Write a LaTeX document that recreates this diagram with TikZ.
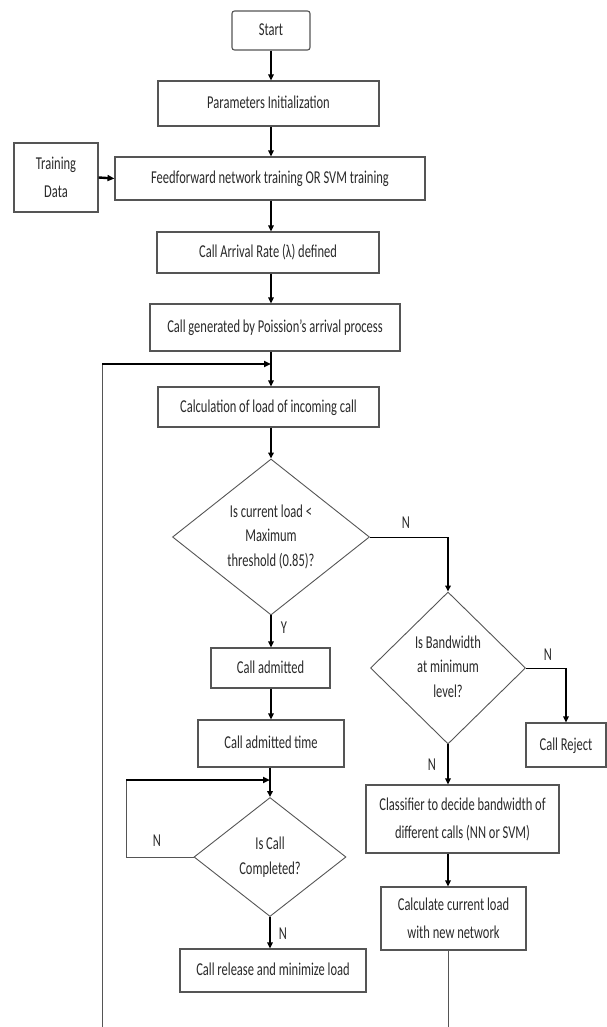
\documentclass[tikz,border=0pt]{standalone}
\usepackage{fontspec}
\setmainfont{Carlito}
\usepackage{graphicx}
\usetikzlibrary{shapes.geometric,arrows.meta}
\definecolor{bordc}{HTML}{555555}
\definecolor{txtc}{HTML}{2a2a2a}
\newcommand\lbl[2][1.2]{\scalebox{1}[1.45]{\renewcommand\arraystretch{#1}\begin{tabular}{@{}c@{}}#2\end{tabular}}}
\begin{document}
\begin{tikzpicture}[x=1pt,y=-1pt,
  box/.style={draw=bordc,line width=1.1pt,inner sep=0pt,text=txtc,font=\fontsize{12.5}{15}\selectfont},
  dia/.style={draw=bordc,line width=0.9pt,shape=diamond,inner sep=0pt},
  dtext/.style={inner sep=0pt,text=txtc,font=\fontsize{12.5}{15}\selectfont},
  yn/.style={inner sep=0pt,text=txtc,font=\fontsize{12.5}{15}\selectfont},
  arr/.style={-{Triangle[length=6pt,width=5.5pt]},line width=1.7pt,black},
  fb/.style={-{Triangle[length=7pt,width=6pt]},line width=2.4pt,black},
  thinl/.style={draw=bordc,line width=0.9pt}]
\useasboundingbox[fill=white] (0,0) rectangle (606,1027);
% nodes
\node[box,rounded corners=2.5pt,minimum width=78pt,minimum height=39pt] (start) at (271,30.5) {\lbl{Start}};
\node[box,minimum width=221pt,minimum height=45pt] (params) at (268.5,103.5) {\lbl{Parameters Initialization}};
\node[box,minimum width=84pt,minimum height=69pt] (train) at (56,177.5) {\lbl[1.3]{Training\\Data}};
\node[box,minimum width=310pt,minimum height=43pt] (ff) at (270,178.5) {\lbl{Feedforward network training OR SVM training}};
\node[box,minimum width=222pt,minimum height=41pt] (rate) at (268,252.5) {\lbl{Call Arrival Rate (λ) defined}};
\node[box,minimum width=250pt,minimum height=47pt] (gen) at (275,327.5) {\lbl{Call generated by Poission’s arrival process}};
\node[box,minimum width=221pt,minimum height=40pt] (calc) at (268.5,407) {\lbl{Calculation of load of incoming call}};
\node[dia,minimum width=197pt,minimum height=156pt] (d1) at (271,537) {};
\node[dtext] (d1t) at (d1.center) {\lbl[1.13]{Is current load <\\Maximum\\threshold (0.85)?}};
\node[box,minimum width=119pt,minimum height=40pt] (adm) at (270.5,668) {\lbl{Call admitted}};
\node[box,minimum width=146pt,minimum height=47pt] (admt) at (271,743.5) {\lbl{Call admitted time}};
\node[dia,minimum width=152pt,minimum height=119pt] (d3) at (270,857) {};
\node[dtext] (d3t) at (d3.center) {\lbl[1.13]{Is Call\\Completed?}};
\node[box,minimum width=186pt,minimum height=43pt] (rel) at (273,970.5) {\lbl{Call release and minimize load}};
\node[dia,minimum width=155pt,minimum height=152pt] (d2) at (448,668) {};
\node[dtext] (d2t) at (d2.center) {\lbl[1.13]{Is Bandwidth\\at minimum\\level?}};
\node[box,minimum width=80pt,minimum height=44pt] (rej) at (566,745) {\lbl{Call Reject}};
\node[box,minimum width=193pt,minimum height=68pt] (cls) at (462.5,819) {\lbl[1.3]{Classifier to decide bandwidth of\\different calls (NN or SVM)}};
\node[box,minimum width=145pt,minimum height=63pt] (cur) at (453.5,918.5) {\lbl[1.3]{Calculate current load\\with new network}};
% coordinates
\coordinate (fbin) at (271,364);
\coordinate (fbl) at (102,364);
\coordinate (fbb) at (102,1027);
\coordinate (curb) at (448,1027);
\coordinate (fb2in) at (270,780);
\coordinate (fb2t) at (126,780);
\coordinate (fb2b) at (126,857);
\coordinate (d1r) at (d1.east -| d2.north);
\coordinate (d2r) at (d2.east -| rej.north);
% connectors
\draw[arr] (start.south) -- (start.south |- params.north);
\draw[arr] (start |- params.south) -- (start |- ff.north);
\draw[fb] (train.east) -- (ff.west);
\draw[arr] (start |- ff.south) -- (start |- rate.north);
\draw[arr] (start |- rate.south) -- (start |- gen.north);
\draw[arr] (start |- gen.south) -- (start |- calc.north);
\draw[arr] (start |- calc.south) -- (d1.north);
\draw[arr] (d1.south) -- (d1.south |- adm.north);
\draw[arr] (d1 |- adm.south) -- (d1 |- admt.north);
\draw[arr] (d3 |- admt.south) -- (d3.north);
\draw[arr] (d3.south) -- (d3.south |- rel.north);
\draw[line width=0.9pt,black] (d1.east) -- (d1r);
\draw[arr] (d1r) -- (d2.north);
\draw[line width=0.9pt,black] (d2.east) -- (d2r);
\draw[arr] (d2r) -- (rej.north);
\draw[arr] (d2.south) -- (d2.south |- cls.north);
\draw[arr] (d2 |- cls.south) -- (d2 |- cur.north);
\draw[thinl] (d2 |- cur.south) -- (curb);
\draw[thinl] (fbb) -- (fbl);
\draw[fb] (fbl) -- (fbin);
\draw[thinl] (d3.west) -- (fb2b) -- (fb2t);
\draw[fb] (fb2t) -- (fb2in);
% labels
\node[yn] (lN1) at (406,523) {\lbl{N}};
\node[yn] (lY) at (284,628) {\lbl{Y}};
\node[yn] (lN2) at (548,655) {\lbl{N}};
\node[yn] (lN3) at (432,765) {\lbl{N}};
\node[yn] (lN4) at (157,841) {\lbl{N}};
\node[yn] (lN5) at (283,934) {\lbl{N}};
\end{tikzpicture}
\end{document}
